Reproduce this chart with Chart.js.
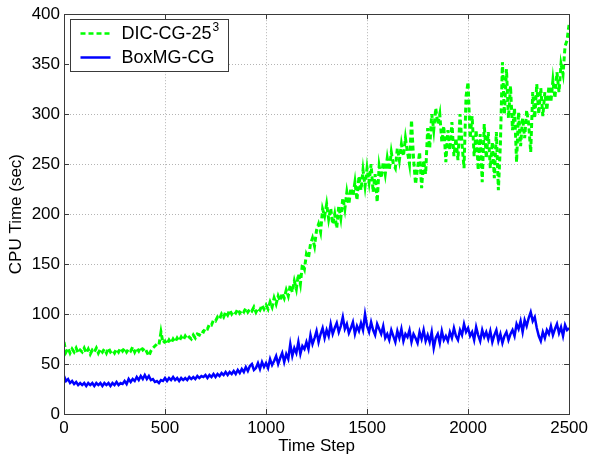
<!DOCTYPE html>
<html>
<head>
<meta charset="utf-8">
<script src="https://cdn.jsdelivr.net/npm/chart.js@4/dist/chart.umd.min.js"></script>
<style>
  html, body { margin: 0; padding: 0; background: #fff; }
  canvas { display: block; }
</style>
</head>
<body>
<canvas id="c" width="592" height="457"></canvas>
<script>
// --- data, one value every 10 time steps ---
const STEP = 10;

const dicCG = [
  72, 62, 66, 61, 65, 62, 66, 61, 64, 62,
  66, 61, 65, 60, 64, 62, 66, 61, 65, 62,
  65, 61, 66, 62, 64, 61, 65, 62, 66, 63,
  66, 62, 65, 63, 67, 62, 66, 63, 67, 64,
  66, 62, 58, 63, 66, 68, 70, 69, 82, 71,
  73, 70, 74, 71, 75, 72, 76, 73, 77, 74,
  78, 75, 77, 75, 79, 76, 80, 79, 83, 82,
  86, 85, 90, 89, 94, 93, 97, 95, 100, 97,
  102, 99, 104, 100, 103, 101, 105, 101, 104, 102,
  106, 102, 105, 103, 107, 102, 106, 104, 109, 105,
  109, 105, 112, 107, 116, 110, 118, 113, 121, 116,
  124, 118, 129, 122, 133, 125, 140, 130, 150, 145,
  160, 156, 170, 176, 168, 184, 190, 182, 205, 198,
  210, 195, 206, 190, 200, 186, 208, 196, 216, 205,
  222, 210, 226, 218, 232, 214, 238, 224, 244, 228,
  246, 232, 250, 222, 240, 212, 248, 236, 252, 240,
  256, 244, 262, 250, 246, 266, 254, 270, 258, 276,
  262, 250, 294, 256, 230, 246, 262, 226, 254, 240,
  286, 266, 300, 284, 306, 290, 300, 272, 288, 252,
  284, 264, 292, 258, 276, 254, 300, 270, 246, 318,
  332, 276, 298, 258, 284, 244, 280, 232, 290, 256,
  282, 246, 272, 236, 282, 224, 270, 352, 300, 345,
  296, 328, 284, 306, 252, 302, 268, 296, 276, 304,
  290, 262, 322, 296, 330, 300, 326, 298, 322, 304,
  328, 312, 334, 316, 342, 322, 350, 340, 368, 374,
  390
];

const boxMG = [
  38, 33, 35, 31, 33, 30, 32, 29, 31, 29,
  31, 28, 31, 29, 31, 28, 31, 29, 31, 28,
  31, 29, 31, 28, 31, 29, 32, 29, 31, 30,
  33, 30, 35, 32, 35, 33, 37, 34, 38, 35,
  39, 35, 38, 34, 35, 32, 33, 31, 34, 33,
  36, 33, 36, 34, 37, 34, 36, 33, 36, 34,
  36, 34, 37, 35, 37, 35, 38, 36, 38, 37,
  39, 36, 39, 37, 40, 37, 40, 38, 41, 39,
  42, 39, 42, 40, 43, 40, 44, 41, 45, 42,
  47, 43, 48, 50, 44, 46, 51, 45, 52, 47,
  51, 46, 55, 49, 53, 58, 50, 56, 61, 52,
  60, 55, 70, 58, 66, 61, 72, 60, 68, 65,
  72, 65, 79, 70, 76, 83, 72, 80, 86, 76,
  84, 78, 90, 80, 86, 91, 82, 88, 97, 85,
  90, 81, 86, 92, 80, 88, 83, 91, 84, 100,
  88, 82, 92, 84, 79, 90, 85, 80, 88, 76,
  80, 74, 84, 78, 72, 83, 76, 85, 73, 80,
  77, 84, 72, 80, 76, 71, 82, 75, 84, 73,
  79, 72, 82, 66, 76, 80, 71, 83, 74, 78,
  73, 82, 76, 86, 78, 74, 84, 79, 90, 82,
  86, 78, 82, 74, 87, 79, 73, 84, 77, 82,
  75, 83, 72, 79, 84, 73, 80, 71, 78, 82,
  74, 80, 84, 78, 90, 85, 93, 82, 94, 88,
  96, 102, 93, 97, 86, 78, 73, 82, 76, 84,
  80, 88, 79, 85, 90, 81, 87, 78, 89, 84,
  86
];

const xTicks = [0, 500, 1000, 1500, 2000, 2500];
const yTicks = [0, 50, 100, 150, 200, 250, 300, 350, 400];
const seriesNames = ['DIC-CG-25', 'BoxMG-CG'];
const seriesSup = ['3', ''];

const FONT = '"Liberation Sans", Arial, Helvetica, sans-serif';

const toPoints = arr => arr.map((v, i) => ({ x: i * STEP, y: v }));

// 枠・内向き目盛り・凡例を描くプラグイン
const frameAndLegend = {
  id: 'frameAndLegend',
  afterDatasetsDraw(chart) {
    const { ctx, chartArea: a, scales } = chart;
    ctx.save();
    ctx.strokeStyle = '#3a3a3a';
    ctx.lineWidth = 1;
    ctx.setLineDash([]);
    ctx.beginPath();
    xTicks.forEach(v => {
      const px = Math.round(scales.x.getPixelForValue(v)) + 0.5;
      ctx.moveTo(px, a.bottom); ctx.lineTo(px, a.bottom - 5);
      ctx.moveTo(px, a.top); ctx.lineTo(px, a.top + 5);
    });
    yTicks.forEach(v => {
      const py = Math.round(scales.y.getPixelForValue(v)) + 0.5;
      ctx.moveTo(a.left, py); ctx.lineTo(a.left + 5, py);
      ctx.moveTo(a.right, py); ctx.lineTo(a.right - 5, py);
    });
    ctx.stroke();
    ctx.strokeRect(Math.round(a.left) + 0.5, Math.round(a.top) + 0.5,
      Math.round(a.right - a.left), Math.round(a.bottom - a.top));

    // 凡例
    const bx = Math.round(a.left) + 6.5, by = Math.round(a.top) + 5.5, bw = 158, bh = 52;
    ctx.fillStyle = '#fff';
    ctx.fillRect(bx, by, bw, bh);
    ctx.strokeRect(bx, by, bw, bh);
    chart.data.datasets.forEach((ds, i) => {
      const ly = by + 14 + i * 24;
      ctx.strokeStyle = ds.borderColor;
      ctx.lineWidth = 2.5;
      ctx.setLineDash(ds.borderDash || []);
      ctx.beginPath();
      ctx.moveTo(bx + 10, ly); ctx.lineTo(bx + 40, ly);
      ctx.stroke();
      ctx.setLineDash([]);
      ctx.fillStyle = '#000';
      ctx.font = '18px ' + FONT;
      ctx.textBaseline = 'middle';
      ctx.fillText(seriesNames[i], bx + 51, ly + 1);
      if (seriesSup[i]) {
        const w = ctx.measureText(seriesNames[i]).width;
        ctx.font = '12px ' + FONT;
        ctx.fillText(seriesSup[i], bx + 52 + w, ly - 6);
      }
    });
    ctx.restore();
  }
};

new Chart(document.getElementById('c'), {
  type: 'line',
  data: {
    datasets: [
      {
        label: seriesNames[0],
        data: toPoints(dicCG),
        borderColor: '#00ff00',
        borderWidth: 3,
        borderDash: [5, 3],
        pointRadius: 0,
        tension: 0,
        fill: false
      },
      {
        label: seriesNames[1],
        data: toPoints(boxMG),
        borderColor: '#0000ff',
        borderWidth: 2.5,
        pointRadius: 0,
        tension: 0,
        fill: false
      }
    ]
  },
  options: {
    responsive: false,
    animation: false,
    layout: { padding: { top: 14, right: 21, left: 0, bottom: 0 } },
    plugins: { legend: { display: false }, tooltip: { enabled: false } },
    scales: {
      x: {
        type: 'linear',
        min: 0, max: 2500,
        afterBuildTicks: s => { s.ticks = xTicks.map(v => ({ value: v })); },
        afterFit: s => { s.height = 43; },
        ticks: { color: '#000', font: { family: FONT, size: 17 }, padding: 4, maxRotation: 0, callback: v => String(v) },
        grid: { color: '#b4b4b4', lineWidth: 1, drawTicks: false },
        border: { display: false, dash: [1, 2] },
        title: { display: true, text: 'Time Step', color: '#000', font: { family: FONT, size: 17 }, padding: { top: 0, bottom: 0 } }
      },
      y: {
        min: 0, max: 400,
        afterBuildTicks: s => { s.ticks = yTicks.map(v => ({ value: v })); },
        afterFit: s => { s.width = 64; },
        ticks: { color: '#000', font: { family: FONT, size: 17 }, padding: 4, callback: v => String(v) },
        grid: { color: '#b4b4b4', lineWidth: 1, drawTicks: false },
        border: { display: false, dash: [1, 2] },
        title: { display: true, text: 'CPU Time (sec)', color: '#000', font: { family: FONT, size: 17 }, padding: { top: 6, bottom: 0 } }
      }
    }
  },
  plugins: [frameAndLegend]
});
</script>
</body>
</html>
